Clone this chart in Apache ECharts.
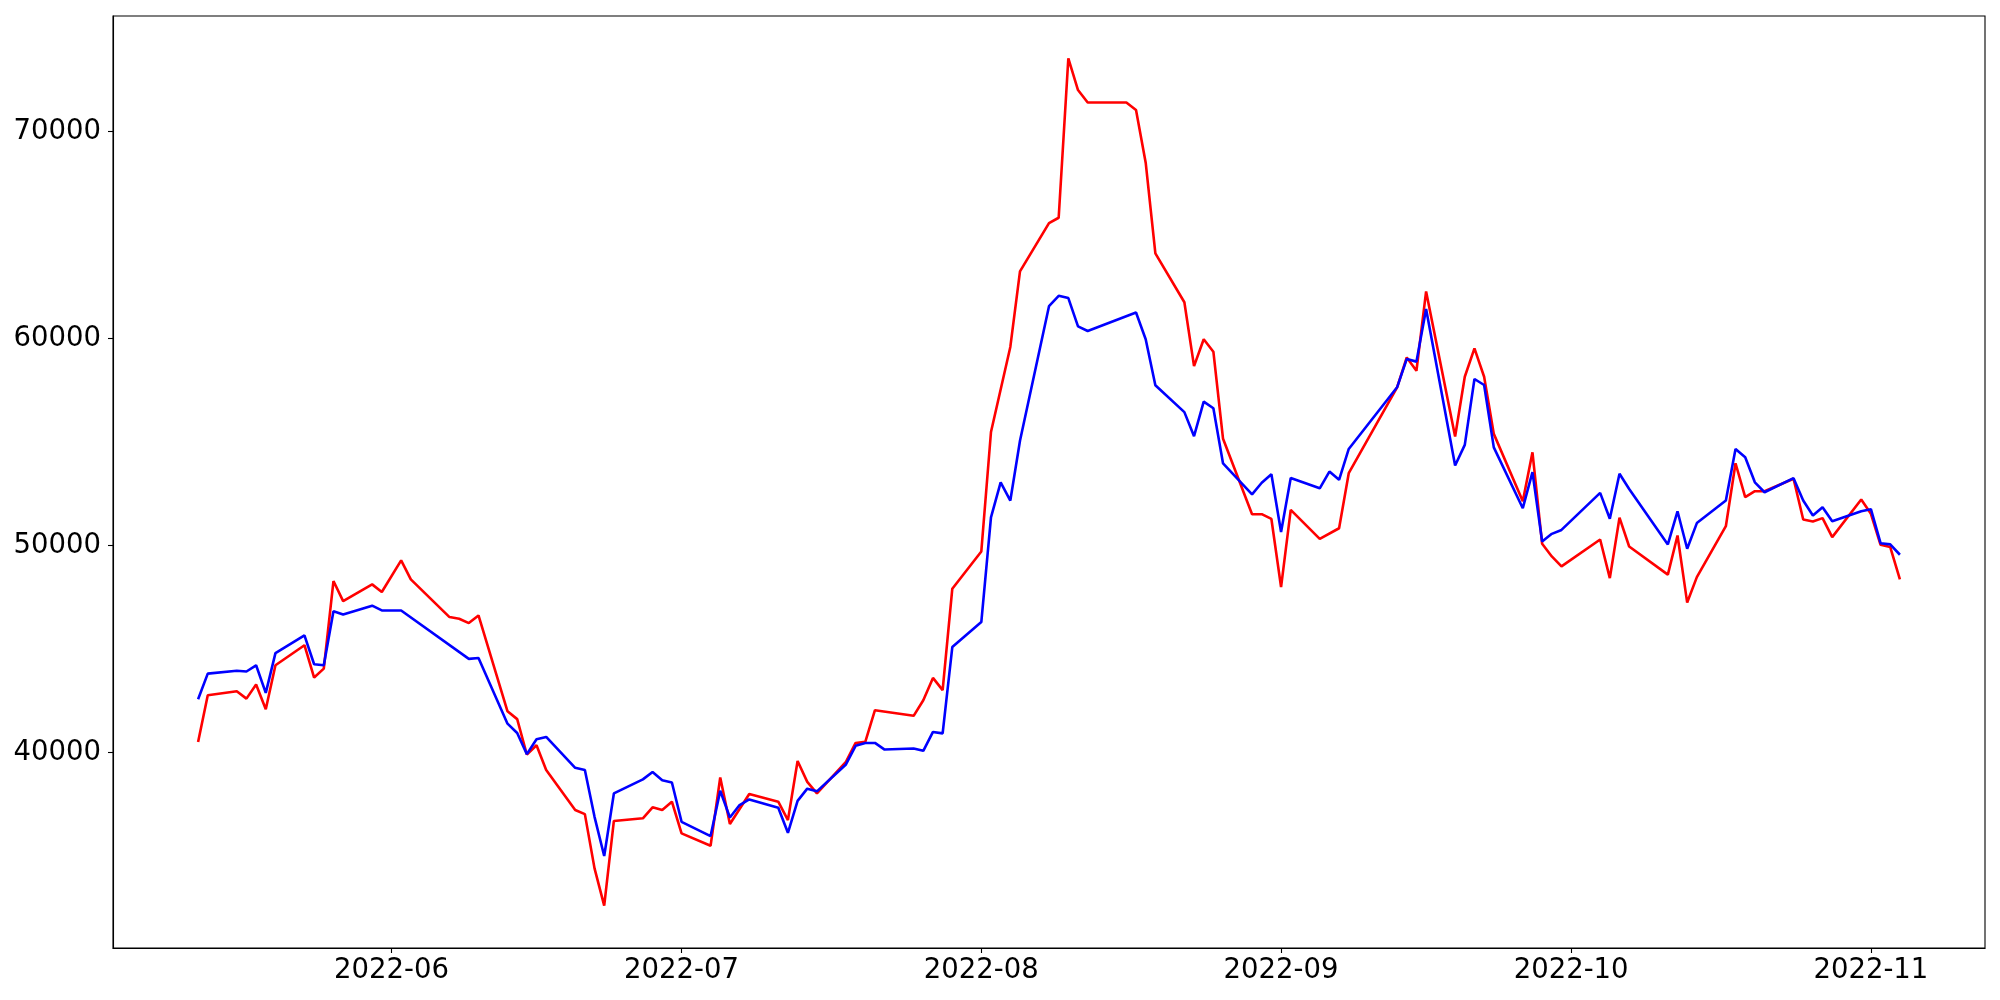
<!DOCTYPE html>
<html>
<head>
<meta charset="utf-8">
<script src="https://cdn.jsdelivr.net/npm/echarts@6/dist/echarts.min.js"></script>
<style>
  html, body { margin: 0; padding: 0; background: #fff; }
  #chart { width: 2000px; height: 1000px; }
</style>
</head>
<body>
<div id="chart"></div>
<script>
const dates = [
  '2022-05-12','2022-05-13','2022-05-16','2022-05-17','2022-05-18','2022-05-19','2022-05-20','2022-05-23','2022-05-24','2022-05-25','2022-05-26','2022-05-27','2022-05-30','2022-05-31',
  '2022-06-02','2022-06-03','2022-06-07','2022-06-08','2022-06-09','2022-06-10','2022-06-13','2022-06-14','2022-06-15','2022-06-16','2022-06-17','2022-06-20','2022-06-21','2022-06-22','2022-06-23','2022-06-24','2022-06-27','2022-06-28','2022-06-29','2022-06-30',
  '2022-07-01','2022-07-04','2022-07-05','2022-07-06','2022-07-07','2022-07-08','2022-07-11','2022-07-12','2022-07-13','2022-07-14','2022-07-15','2022-07-18','2022-07-19','2022-07-20','2022-07-21','2022-07-22','2022-07-25','2022-07-26','2022-07-27','2022-07-28','2022-07-29',
  '2022-08-01','2022-08-02','2022-08-03','2022-08-04','2022-08-05','2022-08-08','2022-08-09','2022-08-10','2022-08-11','2022-08-12','2022-08-16','2022-08-17','2022-08-18','2022-08-19','2022-08-22','2022-08-23','2022-08-24','2022-08-25','2022-08-26','2022-08-29','2022-08-30','2022-08-31',
  '2022-09-01','2022-09-02','2022-09-05','2022-09-06','2022-09-07','2022-09-08','2022-09-13','2022-09-14','2022-09-15','2022-09-16','2022-09-19','2022-09-20','2022-09-21','2022-09-22','2022-09-23','2022-09-26','2022-09-27','2022-09-28','2022-09-29','2022-09-30',
  '2022-10-04','2022-10-05','2022-10-06','2022-10-07','2022-10-11','2022-10-12','2022-10-13','2022-10-14','2022-10-17','2022-10-18','2022-10-19','2022-10-20','2022-10-21','2022-10-24','2022-10-25','2022-10-26','2022-10-27','2022-10-28','2022-10-31',
  '2022-11-01','2022-11-02','2022-11-03','2022-11-04'
];

const redValues = [
  40520,42770,42970,42610,43290,42100,44220,45190,43630,44060,48290,47320,48130,47760,
  49290,48370,46550,46470,46260,46630,42000,41620,39910,40360,39160,37230,37030,34410,32610,36700,36830,37360,37230,37630,
  36100,35500,38800,36550,null,38000,37630,36740,39600,38590,38030,39560,40470,40520,42050,null,41780,42530,43610,43020,47920,
  49720,55490,null,59600,63250,65580,65840,73540,72010,71410,71410,71050,68500,64120,61760,58670,59970,59370,55160,51520,51520,51290,
  48000,51730,50330,null,50840,53500,57650,59090,58450,62280,55270,58160,59530,58160,55400,52150,54510,50090,49480,49000,
  50300,48430,51350,49960,48600,50490,47250,48480,50940,53980,52340,52630,52630,53230,51260,51170,51330,50410,52230,
  51540,50040,49930,48370
];

const blueValues = [
  42580,43820,43960,43920,44220,42890,44810,45670,44270,44220,46830,46670,47100,46870,
  46870,null,null,null,44530,44570,41400,40950,39930,40650,40760,39270,39160,36900,35010,38030,38710,39070,38670,38560,
  36660,35970,38160,36870,37470,37740,37340,36130,37670,38260,38130,39430,40330,40470,40470,40150,40200,40090,41000,40930,45100,
  46310,51370,53060,52180,55070,61570,62070,61960,60590,60370,null,61260,59970,57750,56450,55290,56960,56640,53970,52480,53040,53450,
  50660,53270,52770,53580,53180,54670,57650,59020,58890,61430,53870,54870,58050,57760,54750,51810,53550,50200,50570,50760,
  52550,51300,53470,52740,50060,51660,49850,51090,52180,54670,54270,53060,52580,53260,52180,51460,51860,51180,51660,
  51760,50120,50060,49560
];

const xTickDates = ['2022-06-01','2022-07-01','2022-08-01','2022-09-01','2022-10-01','2022-11-01'];
const xTickLabels = ['2022-06','2022-07','2022-08','2022-09','2022-10','2022-11'];
const yTickValues = [40000, 50000, 60000, 70000];

function ts(s) {
  const p = s.split('-').map(Number);
  return Date.UTC(p[0], p[1] - 1, p[2]);
}

function pairs(vals) {
  return dates.map((d, i) => [ts(d), vals[i]]).filter(p => p[1] !== null);
}

const firstT = ts(dates[0]);
const lastT = ts(dates[dates.length - 1]);
const tPad = (lastT - firstT) * 0.05;
const allVals = redValues.concat(blueValues).filter(v => v !== null);
const vMin = Math.min.apply(null, allVals);
const vMax = Math.max.apply(null, allVals);
const vPad = (vMax - vMin) * 0.05;

const tickTs = xTickDates.map(ts);
const labelMap = {};
tickTs.forEach((t, i) => { labelMap[t] = xTickLabels[i]; });

const font = 'DejaVu Sans';
const chart = echarts.init(document.getElementById('chart'), null, { renderer: 'canvas' });

chart.setOption({
  animation: false,
  backgroundColor: '#ffffff',
  grid: {
    left: 113, right: 15, top: 16, bottom: 52,
    show: true, borderColor: '#000000', borderWidth: 1.1,
    containLabel: false
  },
  xAxis: {
    type: 'value',
    min: firstT - tPad,
    max: lastT + tPad,
    splitLine: { show: false },
    axisLine: { show: true, lineStyle: { color: '#000', width: 1.1 } },
    axisTick: {
      show: true, length: 5, inside: false,
      lineStyle: { color: '#000', width: 1.1 },
      customValues: tickTs
    },
    axisLabel: {
      show: true, color: '#000', fontFamily: font, fontSize: 27.5, margin: 9,
      showMinLabel: true, showMaxLabel: true,
      customValues: tickTs,
      formatter: function (v) { return labelMap[v] || ''; }
    }
  },
  yAxis: {
    type: 'value',
    min: vMin - vPad,
    max: vMax + vPad,
    splitLine: { show: false },
    axisLine: { show: true, lineStyle: { color: '#000', width: 1.1 } },
    axisTick: {
      show: true, length: 5, inside: false,
      lineStyle: { color: '#000', width: 1.1 },
      customValues: yTickValues
    },
    axisLabel: {
      show: true, color: '#000', fontFamily: font, fontSize: 27.5, margin: 12,
      customValues: yTickValues,
      formatter: function (v) { return String(v); }
    }
  },
  series: [
    {
      name: 'red', type: 'line', data: pairs(redValues),
      showSymbol: false, symbol: 'none',
      lineStyle: { color: '#ff0000', width: 2.6 },
      itemStyle: { color: '#ff0000' },
      z: 2
    },
    {
      name: 'blue', type: 'line', data: pairs(blueValues),
      showSymbol: false, symbol: 'none',
      lineStyle: { color: '#0000ff', width: 2.6 },
      itemStyle: { color: '#0000ff' },
      z: 3
    }
  ]
});
</script>
</body>
</html>
